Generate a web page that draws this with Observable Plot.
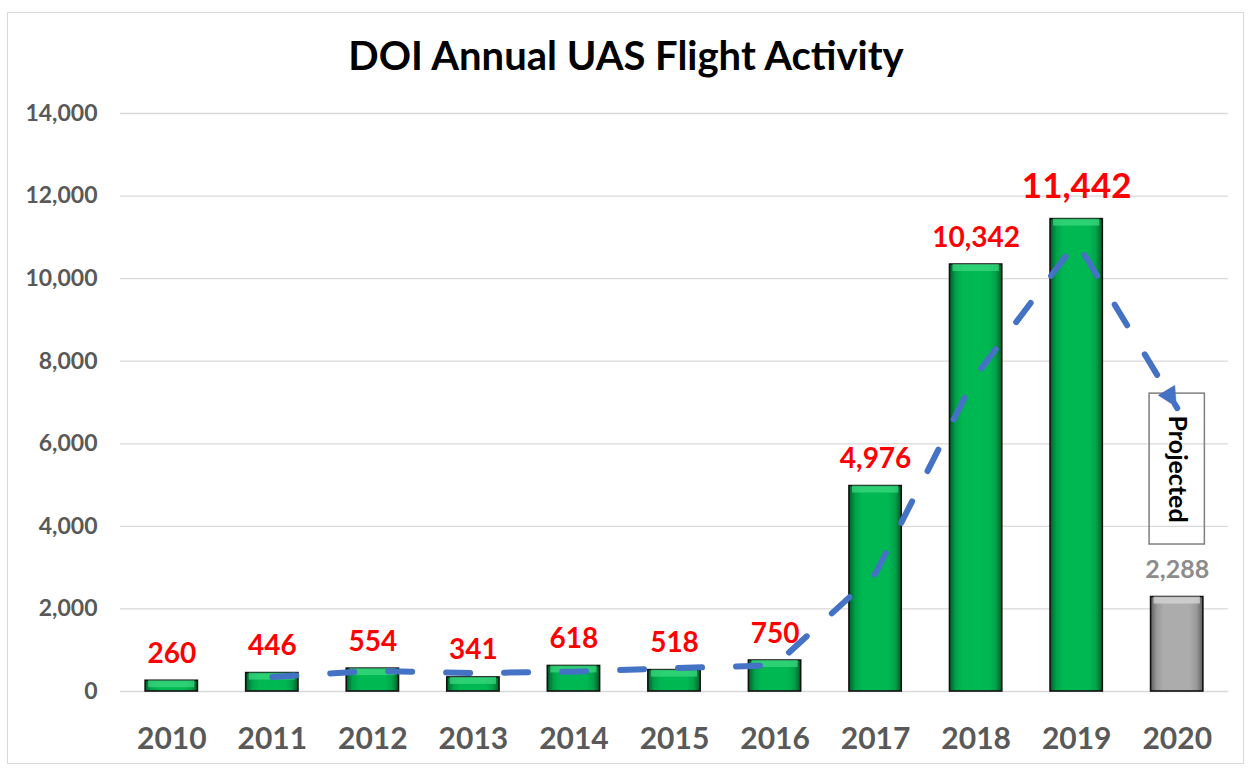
<!DOCTYPE html>
<html>
<head>
<meta charset="utf-8">
<script src="https://cdn.jsdelivr.net/npm/d3@7"></script>
<script src="https://cdn.jsdelivr.net/npm/@observablehq/plot@0.6"></script>
<style>
  html, body { margin: 0; padding: 0; background: #fff; }
  #wrap { position: relative; width: 1250px; height: 768px; overflow: hidden; font-family: Lato, "Open Sans", sans-serif; }
  #frame { position: absolute; left: 7px; top: 12px; width: 1237px; height: 752px; border: 1.5px solid #d9d9d9; box-sizing: border-box; }
  #title { position: absolute; left: 0; top: 35px; width: 1252px; text-align: center; font-size: 40px; line-height: 40px; font-weight: bold; color: #000; }
  #chart { position: absolute; left: 0; top: 90px; }
  #chart svg { font-family: Lato, "Open Sans", sans-serif; overflow: visible; }
  #chart g[aria-label^="x-axis"] text { font-size: 30px; font-weight: bold; fill: #595959; }
  #chart g[aria-label^="y-axis"] text { font-size: 23px; font-weight: bold; fill: #595959; }
</style>
</head>
<body>
<div id="wrap">
  <div id="frame"></div>
  <div id="title">DOI Annual UAS Flight Activity</div>
  <div id="chart"></div>
</div>
<script>
// ---- data ----
const years = ["2010", "2011", "2012", "2013", "2014", "2015", "2016", "2017", "2018", "2019", "2020"];
const flights = [260, 446, 554, 341, 618, 518, 750, 4976, 10342, 11442, 2288];
const projectedYear = "2020";
const peakYear = "2019";
// 2-period moving-average trend line, years 2011-2020
const trendYears = ["2011", "2012", "2013", "2014", "2015", "2016", "2017", "2018", "2019", "2020"];
const trendValues = [353, 500, 447, 480, 568, 634, 2863, 7659, 10892, 6865];
const yTicks = [0, 2000, 4000, 6000, 8000, 10000, 12000, 14000];
const projectedNote = "Projected";
const projectedBoxRange = [3560, 7215];

const rows = years.map((year, i) => ({year, value: flights[i]}));
const actual = rows.filter(d => d.year !== projectedYear);
const projected = rows.filter(d => d.year === projectedYear);
const regularLabels = actual.filter(d => d.year !== peakYear);
const peakLabels = actual.filter(d => d.year === peakYear);
const trend = trendYears.map((year, i) => ({year, value: trendValues[i]}));
const trendEnd = trend.slice(-1);
const note = [{year: projectedYear, y1: projectedBoxRange[0], y2: projectedBoxRange[1], text: projectedNote}];
const fmt = d3.format(",");

const chart = Plot.plot({
  width: 1250,
  height: 671,
  marginTop: 23,
  marginBottom: 70,
  marginLeft: 120,
  marginRight: 22,
  x: {domain: years, paddingInner: 0.48, paddingOuter: 0.25, round: false, tickSize: 0, tickPadding: 36, label: null},
  y: {domain: [0, 14000], ticks: yTicks, tickFormat: fmt, tickSize: 0, tickPadding: 23, label: null},
  marks: [
    Plot.ruleY(yTicks, {stroke: "#d9d9d9", strokeWidth: 1.3}),
    Plot.barY(actual, {x: "year", y: "value", fill: "url(#gradGreen)", stroke: "#111", strokeWidth: 1.6}),
    Plot.barY(projected, {x: "year", y: "value", fill: "url(#gradGray)", stroke: "#111", strokeWidth: 1.6}),
    Plot.barY(actual, {x: "year", y1: "value", y2: "value", insetBottom: -7, insetLeft: 3, insetRight: 3, fill: "#3fdc83", fillOpacity: 0.7}),
    Plot.barY(projected, {x: "year", y1: "value", y2: "value", insetBottom: -7, insetLeft: 3, insetRight: 3, fill: "#d4d4d4", fillOpacity: 0.8}),
    Plot.text(regularLabels, {x: "year", y: "value", text: d => fmt(d.value), dy: -18, lineAnchor: "bottom", fill: "#ff0000", fontSize: 28, fontWeight: "bold"}),
    Plot.text(peakLabels, {x: "year", y: "value", text: d => fmt(d.value), dy: -21, lineAnchor: "bottom", fill: "#ff0000", fontSize: 35, fontWeight: "bold"}),
    Plot.text(projected, {x: "year", y: "value", text: d => fmt(d.value), dy: -19, lineAnchor: "bottom", fill: "#8c8c8c", fontSize: 25, fontWeight: "bold"}),
    Plot.barY(note, {x: "year", y1: "y1", y2: "y2", fill: "none", stroke: "#7f7f7f", strokeWidth: 1.5, insetLeft: -1.5, insetRight: -1.5}),
    Plot.text(note, {x: "year", y: d => (d.y1 + d.y2) / 2, text: "text", rotate: 90, fill: "#000", fontSize: 25, fontWeight: "bold"}),
    Plot.line(trend, {x: "year", y: "value", stroke: "#4472C4", strokeWidth: 6, strokeDasharray: "24,34", strokeLinecap: "round"}),
    Plot.text(trendEnd, {x: "year", y: "value", text: () => "\u25B2", rotate: 149, fontFamily: "DejaVu Sans", fontSize: 26, fill: "#4472C4", dx: -5, dy: -8})
  ]
});

const svgSel = d3.select(chart.tagName.toLowerCase() === "svg" ? chart : chart.querySelector("svg"));
const defs = svgSel.insert("defs", ":first-child");
const g1 = defs.append("linearGradient").attr("id", "gradGreen").attr("x1", "0").attr("x2", "1").attr("y1", "0").attr("y2", "0");
[[0, "#005e2a"], [0.12, "#00a24a"], [0.25, "#00b852"], [0.75, "#00b852"], [0.88, "#00a24a"], [1, "#005e2a"]]
  .forEach(([o, c]) => g1.append("stop").attr("offset", o).attr("stop-color", c));
const g2 = defs.append("linearGradient").attr("id", "gradGray").attr("x1", "0").attr("x2", "1").attr("y1", "0").attr("y2", "0");
[[0, "#5e5e5e"], [0.12, "#999"], [0.25, "#acacac"], [0.75, "#acacac"], [0.88, "#999"], [1, "#5e5e5e"]]
  .forEach(([o, c]) => g2.append("stop").attr("offset", o).attr("stop-color", c));

document.getElementById("chart").appendChild(chart);
</script>
</body>
</html>
